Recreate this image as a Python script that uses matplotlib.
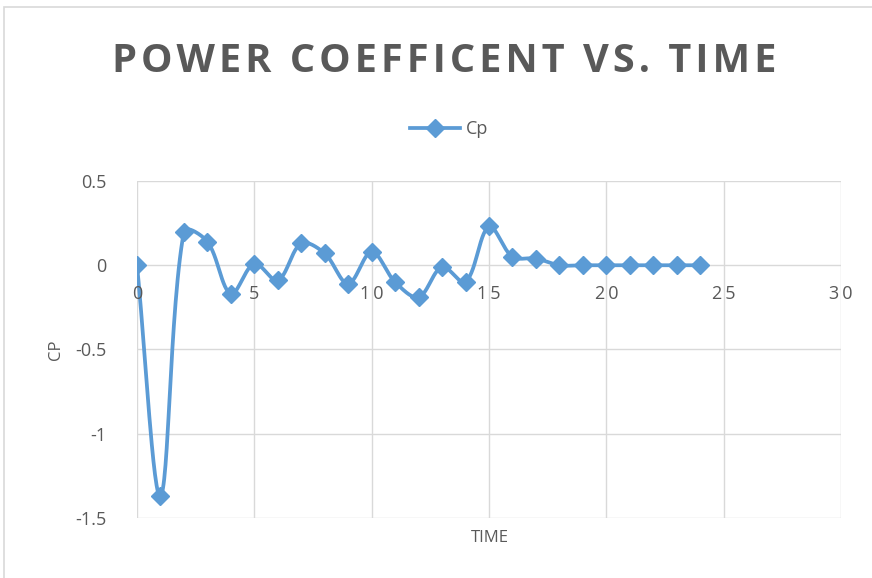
import numpy as np
import matplotlib.pyplot as plt
from matplotlib.patches import Rectangle
from matplotlib.lines import Line2D

time = list(range(25))
cp = [0, -1.37, 0.20, 0.14, -0.17, 0.01, -0.09, 0.13, 0.07, -0.11, 0.08, -0.10,
      -0.19, -0.01, -0.10, 0.23, 0.05, 0.04, 0.0, 0.0, 0.0, 0.0, 0.0, 0.0, 0.0]
xticks = [0, 5, 10, 15, 20, 25, 30]
yticks = [0.5, 0, -0.5, -1, -1.5]
ytick_labels = ["0.5", "0", "-0.5", "-1", "-1.5"]

blue = "#5B9BD5"
grey = "#595959"
plt.rcParams['font.family'] = ['Open Sans', 'DejaVu Sans']

W, H = 872, 578
x0, x1, y0, y1 = 137, 841, 181, 518   # plot area in pixels


def smooth(x, y, sx, sy, n=30):
    # excel-like smoothed line: bezier segments, tangents scaled by chord length
    p = np.column_stack([np.asarray(x, float) * sx, np.asarray(y, float) * sy])
    p = np.vstack([p[0], p, p[-1]])
    t = np.linspace(0, 1, n)[:, None]
    out = []
    for i in range(1, len(p) - 2):
        p0, p1, p2, p3 = p[i - 1], p[i], p[i + 1], p[i + 2]
        d01 = np.hypot(*(p1 - p0))
        d12 = np.hypot(*(p2 - p1))
        d23 = np.hypot(*(p3 - p2))
        f1 = d12 / (d01 + d12) if d01 + d12 else 0
        f2 = d12 / (d12 + d23) if d12 + d23 else 0
        c1 = p1 + (p2 - p0) * f1 / 3
        c2 = p2 - (p3 - p1) * f2 / 3
        b = (1 - t) ** 3 * p1 + 3 * (1 - t) ** 2 * t * c1 + 3 * (1 - t) * t ** 2 * c2 + t ** 3 * p2
        out.append(b)
    b = np.vstack(out)
    return b[:, 0] / sx, b[:, 1] / sy


fig = plt.figure(figsize=(8.72, 5.78), dpi=100)
ax = fig.add_axes([x0 / W, 1 - y1 / H, (x1 - x0) / W, (y1 - y0) / H])

sxp = (x1 - x0) / 30
syp = (y1 - y0) / 2
cx, cy = smooth(time, cp, sxp, syp)
ax.plot(cx, cy, color=blue, lw=2.7, solid_capstyle='round', zorder=3)
ax.plot(time, cp, ls='none', marker='D', ms=9, color=blue, zorder=4)

ax.set_xlim(0, 30)
ax.set_ylim(-1.5, 0.5)
ax.set_xticks(xticks)
ax.set_yticks(yticks)
ax.set_yticklabels(ytick_labels)
ax.set_xticklabels([])
ax.grid(True, color="#D9D9D9", lw=1)
ax.set_axisbelow(True)
for s in ax.spines.values():
    s.set_visible(False)
ax.tick_params(length=0, labelsize=13, colors=grey, pad=22)

# x tick labels sit under the zero line, wide tracking like the original
for xv in xticks:
    lab = "\u2009".join(str(xv))
    ax.text(xv, -0.17, lab, ha='center', va='center',
            fontsize=13, color=grey, zorder=5)

fig.text(490 / W, 1 - 538 / H, "TIME", ha='center', va='center', fontsize=12, color=grey)
fig.text(56 / W, 1 - 350 / H, "CP", ha='center', va='center', rotation=90,
         fontsize=12, color=grey)

title = "\u200a".join("POWER COEFFICENT VS. TIME")
fig.text(444 / W, 1 - 61 / H, title, ha='center', va='center',
         fontsize=28.6, fontweight='bold', color=grey)

h = Line2D([], [], color=blue, lw=2.7, marker='D', ms=9)
fig.legend([h], ["Cp"], loc='center', bbox_to_anchor=(449 / W, 1 - 129 / H),
           frameon=False, fontsize=13, labelcolor=grey, handlelength=2.8,
           handletextpad=0.3)

fig.patches.append(Rectangle((4 / W, -0.05), 1.0, 1.05 - 7 / H,
                             transform=fig.transFigure, fill=False,
                             ec="#D9D9D9", lw=1.2))

fig.savefig("out.png", dpi=100)
